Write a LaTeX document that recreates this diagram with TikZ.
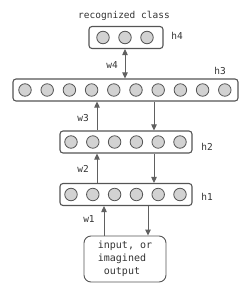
\documentclass[tikz,border=0pt]{standalone}
\usepackage{fontspec}
\setmonofont{DejaVu Sans Mono}
\usetikzlibrary{arrows.meta,calc}
\definecolor{boxc}{HTML}{555555}
\definecolor{cfill}{HTML}{D2D2D2}
\definecolor{arrc}{HTML}{606060}
\definecolor{txtc}{HTML}{333333}
\begin{document}
\begin{tikzpicture}[x=1pt,y=-1pt,
  layer/.style={draw=boxc,line width=1.1pt,rounded corners=3pt,minimum height=22pt,inner sep=0pt},
  unit/.style={circle,draw=boxc,fill=cfill,line width=0.8pt,minimum size=12.5pt,inner sep=0pt},
  arr/.style={draw=arrc,line width=0.9pt,-{Triangle[length=6pt,width=5.5pt]}},
  darr/.style={draw=arrc,line width=0.9pt,{Triangle[length=6pt,width=5.5pt]}-{Triangle[length=6pt,width=5.5pt]}},
  lbl/.style={font=\ttfamily\fontsize{9.5}{11}\selectfont,text=txtc,inner sep=0pt}]
\useasboundingbox (0,0) rectangle (250,295);
% layer boxes
\node[layer,minimum width=74pt] (h4) at (126,37.5) {};
\node[layer,minimum width=225pt] (h3) at (125.5,90) {};
\node[layer,minimum width=132pt] (h2) at (126,142) {};
\node[layer,minimum width=132pt] (h1) at (126,194.5) {};
% units
\foreach \i in {0,1,2} \node[unit] (h4c\i) at (103+22*\i,37.5) {};
\foreach \i in {0,...,9} \node[unit] (h3c\i) at (25+22.2*\i,90) {};
\foreach \i in {0,...,5} \node[unit] (h2c\i) at (71+21.8*\i,142) {};
\foreach \i in {0,...,5} \node[unit] (h1c\i) at (71+21.8*\i,194.5) {};
% input box
\node[draw=boxc,line width=0.9pt,rounded corners=7pt,minimum width=82pt,minimum height=46pt,
  align=left,font=\ttfamily\fontsize{10}{13}\selectfont,text=txtc] (inp) at (125,259)
  {input, or\\imagined\\\ output};
% labels
\node[lbl] (rc) at (124,16) {recognized class};
\node[lbl] (lh4) at (177,36) {h4};
\node[lbl] (lh3) at (220,71) {h3};
\node[lbl] (lh2) at (207,147) {h2};
\node[lbl] (lh1) at (207,197) {h1};
\node[lbl] (lw4) at (112,65) {w4};
\node[lbl] (lw3) at (83,118) {w3};
\node[lbl] (lw2) at (83,169) {w2};
\node[lbl] (lw1) at (89,219) {w1};
% arrow x positions
\coordinate (xa) at (125,0);
\coordinate (xu) at (97,0);
\coordinate (xd) at (154,0);
\coordinate (xu1) at (104,0);
\coordinate (xd1) at (148,0);
% connectors
\draw[darr] (h3.north -| xa) -- (h4.south -| xa);
\draw[arr] (h2.north -| xu) -- (h3.south -| xu);
\draw[arr] (h3.south -| xd) -- (h2.north -| xd);
\draw[arr] (h1.north -| xu) -- (h2.south -| xu);
\draw[arr] (h2.south -| xd) -- (h1.north -| xd);
\draw[arr] (inp.north -| xu1) -- (h1.south -| xu1);
\draw[arr] (h1.south -| xd1) -- (inp.north -| xd1);
\end{tikzpicture}
\end{document}
